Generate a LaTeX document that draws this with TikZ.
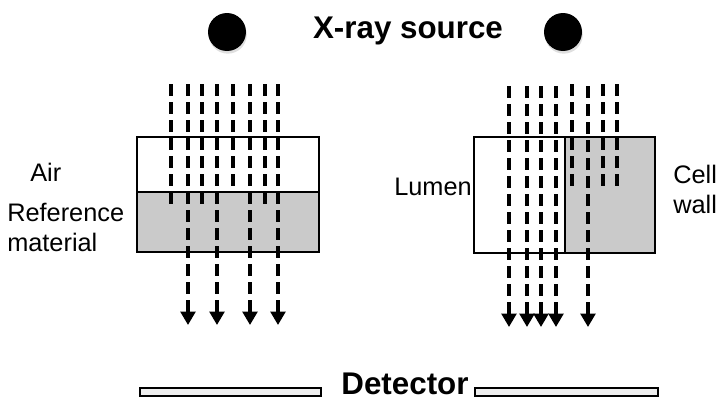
\documentclass[tikz,border=0pt]{standalone}
\usepackage{fontspec}
\setmainfont{Liberation Sans}
\usetikzlibrary{arrows.meta,positioning,shadows}
\definecolor{matgray}{RGB}{202,202,202}
\definecolor{bargray}{RGB}{238,238,238}

\begin{document}
\begin{tikzpicture}[x=0.75pt, y=-0.75pt,
    label/.style={inner sep=0pt, font=\fontsize{19}{22.5}\selectfont, align=left},
    heading/.style={inner sep=0pt, font=\fontsize{23.5}{28}\selectfont\bfseries},
    source/.style={circle, fill=black, minimum size=28.5pt, inner sep=0pt, drop shadow={opacity=0.25, shadow xshift=0.6pt, shadow yshift=-2pt}},
    ray/.style={line width=2.4pt, dash pattern=on 9pt off 4.5pt},
    hit/.style={ray, -{Triangle[width=11pt, length=10pt]}},
    wall/.style={draw, line width=1.8pt},
    sensor/.style={draw, line width=1.7pt, fill=bargray}
]
\useasboundingbox (0,0) rectangle (719,400);
% sources and title
\node[source] (srcL) at (227,32) {};
\node[source] (srcR) at (563,32) {};
\node[heading] (title) at (408,31) {X-ray source};
% left sample: air over reference material
\draw[wall, fill=white] (137,137) rectangle (319,192);
\draw[wall, fill=matgray] (137,192) rectangle (319,252);
\node[label, anchor=west] (air) at (30,172) {Air};
\node[label, anchor=west] (ref) at (7,227) {Reference\\material};
% right sample: lumen and cell wall
\draw[wall, fill=white] (474,137) rectangle (565,253);
\draw[wall, fill=matgray] (565,137) rectangle (655,253);
\node[label, anchor=east] (lumen) at (472,187) {Lumen};
\node[label, anchor=west] (cell) at (673,189) {Cell\\wall};
% rays
\foreach \x/\e in {171/204, 202/204, 233/186, 265/204}
    \draw[ray] (\x,84) -- (\x,\e);
\foreach \x in {188,217,250,278}
    \draw[hit] (\x,84) -- (\x,325);
\foreach \x in {572,603,617}
    \draw[ray] (\x,84) -- (\x,186);
\foreach \x in {509,527,541,556,588}
    \draw[hit] (\x,86) -- (\x,327);
% detector
\node[heading, anchor=base] (det) at (405,394) {Detector};
\draw[sensor] (140,388) rectangle (321,396);
\draw[sensor] (475,388) rectangle (658,396);
\end{tikzpicture}
\end{document}
